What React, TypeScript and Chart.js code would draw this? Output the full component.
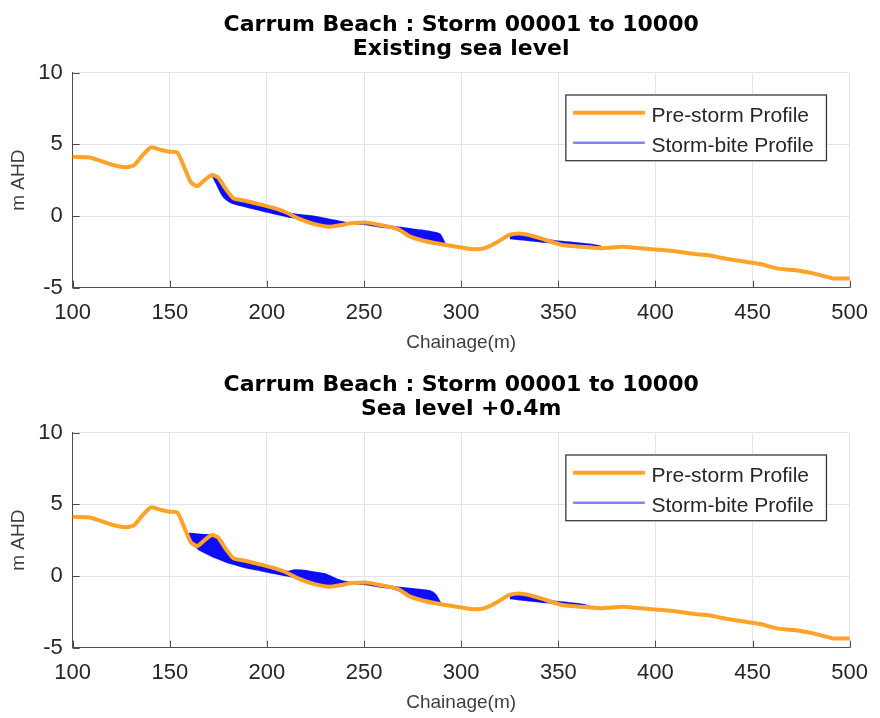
import React, { useEffect, useRef } from "react";
import { Chart, registerables } from "chart.js";

Chart.register(...registerables);

// ---------- data ----------
const xTicks = [100, 150, 200, 250, 300, 350, 400, 450, 500];
const yTicks = [-5, 0, 5, 10];

const chainage = [100, 108.8, 115.6, 120.7, 127.5, 131.8, 136, 140.3, 144.5, 149.6, 153.9, 157.3, 160.7, 164.1, 168.4, 171.7, 174.8, 178.6, 182.8, 188.8, 195.6, 202.4, 209.2, 216, 224.5, 232.1, 238, 243.2, 251.7, 258.5, 267, 273.8, 280.6, 289.1, 297.6, 306.1, 312, 318, 324.8, 329.9, 335, 343.5, 352, 362.2, 372.4, 382.7, 392.9, 403.1, 408.2, 420.1, 426.9, 433.7, 443.9, 454.1, 462.6, 471.1, 481.3, 491.5, 500];
const preStorm = [4.13, 4.09, 3.79, 3.56, 3.4, 3.56, 4.25, 4.79, 4.65, 4.49, 4.42, 3.44, 2.39, 2.09, 2.56, 2.86, 2.7, 1.93, 1.23, 1.07, 0.84, 0.6, 0.3, -0.16, -0.56, -0.74, -0.63, -0.51, -0.46, -0.63, -0.88, -1.44, -1.72, -1.95, -2.14, -2.32, -2.25, -1.86, -1.32, -1.21, -1.32, -1.67, -2.02, -2.14, -2.25, -2.14, -2.25, -2.37, -2.42, -2.65, -2.72, -2.91, -3.14, -3.35, -3.65, -3.77, -4.0, -4.35, -4.35];

// Existing sea level: storm-bite envelope (lowest / highest of all storm profiles)
const existBiteAX = [171.7, 174, 176.8, 179, 182, 186, 190.5, 195, 199, 205, 211, 214, 218, 224.5, 230, 236, 242, 250, 258, 264, 270, 277, 284, 289, 291.6];
const existBiteALow = [2.86, 2.25, 1.5, 1.15, 0.9, 0.75, 0.6, 0.45, 0.32, 0.13, -0.06, -0.12, -0.28, -0.58, -0.72, -0.72, -0.58, -0.58, -0.75, -0.83, -1.14, -1.6, -1.82, -1.97, -2.0];
const existBiteAHigh = [2.86, 2.78, 2.45, 1.9, 1.35, 1.15, 1.02, 0.86, 0.72, 0.5, 0.22, 0.14, 0.07, -0.03, -0.17, -0.33, -0.47, -0.45, -0.57, -0.72, -0.82, -0.95, -1.08, -1.26, -1.9];
const existBiteBX = [325, 330, 336, 342, 348, 355, 362, 368, 372];
const existBiteBLow = [-1.57, -1.64, -1.72, -1.81, -1.9, -2.07, -2.15, -2.21, -2.26];
const existBiteBHigh = [-1.31, -1.21, -1.36, -1.58, -1.72, -1.82, -1.91, -2.0, -2.12];

// Sea level +0.4m
const riseBiteAX = [159.8, 162, 164.9, 168.4, 171.7, 174, 176.8, 179, 182, 186, 190.5, 195, 199, 205, 211, 214, 218, 224.5, 230, 236, 242, 250, 258, 265, 270, 277, 284, 287, 289.5];
const riseBiteALow = [2.75, 2.3, 1.85, 1.6, 1.38, 1.25, 1.1, 0.97, 0.86, 0.7, 0.55, 0.43, 0.31, 0.15, 0.0, -0.08, -0.28, -0.58, -0.72, -0.72, -0.58, -0.58, -0.75, -0.88, -1.14, -1.6, -1.86, -1.92, -1.98];
const riseBiteAHigh = [2.97, 2.95, 2.92, 2.88, 2.86, 2.78, 2.45, 1.9, 1.35, 1.15, 1.02, 0.86, 0.72, 0.5, 0.32, 0.42, 0.4, 0.27, 0.14, -0.22, -0.43, -0.45, -0.57, -0.75, -0.82, -0.92, -1.04, -1.32, -1.92];
const riseBiteBX = [325, 330, 336, 342, 348, 355, 362, 366];
const riseBiteBLow = [-1.57, -1.65, -1.74, -1.83, -1.92, -2.07, -2.15, -2.19];
const riseBiteBHigh = [-1.31, -1.21, -1.36, -1.58, -1.75, -1.86, -1.97, -2.1];

const titleLine1 = "Carrum Beach : Storm 00001 to 10000";
const titleExisting = "Existing sea level";
const titleRise = "Sea level +0.4m";
const legendLabels = ["Pre-storm Profile", "Storm-bite Profile"];

// ---------- styles ----------
const ORANGE = "rgb(255,163,40)";
const BLUE_LINE = "rgba(0,0,255,0.85)";
const BLUE_FILL = "rgba(0,0,245,0.95)";
const BLUE_LEGEND = "rgb(130,130,255)";
const AXIS = "#4d4d4d";
const GRID = "#e3e3e3";
const TEXT = "#262626";
const SANS = "'Liberation Sans', Arial, sans-serif";

const toXY = (xs: number[], ys: number[]) => xs.map((x, i) => ({ x, y: ys[i] }));

type Props = {
  subtitle: string;
  aX: number[]; aLow: number[]; aHigh: number[];
  bX: number[]; bLow: number[]; bHigh: number[];
};

function ProfileChart(p: Props) {
  const ref = useRef<HTMLCanvasElement>(null);
  useEffect(() => {
    const titlePlugin = {
      id: "twoLineTitle",
      afterDraw(chart: any) {
        const { ctx, chartArea: a } = chart;
        const cx = (a.left + a.right) / 2;
        ctx.save();
        ctx.fillStyle = "#000";
        ctx.font = "bold 22px 'DejaVu Sans', sans-serif";
        ctx.textAlign = "center";
        ctx.textBaseline = "alphabetic";
        ctx.fillText(titleLine1, cx, a.top - 42);
        ctx.fillText(p.subtitle, cx, a.top - 17.7);
        ctx.restore();
      },
    };
    const innerTicks = {
      id: "innerTicks",
      afterDraw(chart: any) {
        const { ctx, chartArea: a, scales } = chart;
        ctx.save();
        ctx.strokeStyle = AXIS;
        ctx.lineWidth = 1;
        ctx.beginPath();
        xTicks.forEach((v) => {
          const px = Math.round(scales.x.getPixelForValue(v)) + 0.5;
          ctx.moveTo(px, a.bottom);
          ctx.lineTo(px, a.bottom - 7);
        });
        yTicks.forEach((v) => {
          const py = Math.round(scales.y.getPixelForValue(v)) + 0.5;
          ctx.moveTo(a.left, py);
          ctx.lineTo(a.left + 7, py);
        });
        ctx.stroke();
        ctx.restore();
      },
    };
    const legendPlugin = {
      id: "boxLegend",
      afterDraw(chart: any) {
        const { ctx, chartArea: a } = chart;
        const w = 260.6, h = 65.7;
        const bx = a.right - 23.2 - w;
        const by = a.top + 22.3;
        ctx.save();
        ctx.fillStyle = "#fff";
        ctx.fillRect(bx, by, w, h);
        ctx.strokeStyle = "#3a3a3a";
        ctx.lineWidth = 1.3;
        ctx.strokeRect(bx, by, w, h);
        ctx.lineCap = "butt";
        ctx.strokeStyle = ORANGE;
        ctx.lineWidth = 4;
        ctx.beginPath();
        ctx.moveTo(bx + 7.3, by + 17.7);
        ctx.lineTo(bx + 79, by + 17.7);
        ctx.stroke();
        ctx.strokeStyle = BLUE_LEGEND;
        ctx.lineWidth = 2.5;
        ctx.beginPath();
        ctx.moveTo(bx + 7.3, by + 47.7);
        ctx.lineTo(bx + 79, by + 47.7);
        ctx.stroke();
        ctx.fillStyle = TEXT;
        ctx.font = `21px ${SANS}`;
        ctx.textAlign = "left";
        ctx.textBaseline = "alphabetic";
        ctx.fillText(legendLabels[0], bx + 85.6, by + 26.5);
        ctx.fillText(legendLabels[1], bx + 85.6, by + 56.5);
        ctx.restore();
      },
    };

    const lineBase = { pointRadius: 0, pointHoverRadius: 0, tension: 0.2 };
    const chart = new Chart(ref.current as HTMLCanvasElement, {
      type: "line",
      data: {
        datasets: [
          { ...lineBase, label: legendLabels[0], data: toXY(chainage, preStorm), borderColor: ORANGE, borderWidth: 4, fill: false, order: 0, borderJoinStyle: "round", borderCapStyle: "round" },
          { ...lineBase, label: legendLabels[1], data: toXY(p.aX, p.aLow), borderColor: BLUE_LINE, borderWidth: 1.5, fill: false, order: 1 },
          { ...lineBase, label: legendLabels[1], data: toXY(p.aX, p.aHigh), borderColor: BLUE_LINE, borderWidth: 1.5, fill: "-1", backgroundColor: BLUE_FILL, order: 1 },
          { ...lineBase, label: legendLabels[1], data: toXY(p.bX, p.bLow), borderColor: BLUE_LINE, borderWidth: 1.5, fill: false, order: 1 },
          { ...lineBase, label: legendLabels[1], data: toXY(p.bX, p.bHigh), borderColor: BLUE_LINE, borderWidth: 1.5, fill: "-1", backgroundColor: BLUE_FILL, order: 1 },
        ] as any,
      },
      options: {
        responsive: false,
        animation: false,
        devicePixelRatio: 1,
        layout: { padding: { top: 72.7, right: 23.5, bottom: 0, left: 0 } },
        plugins: { legend: { display: false }, title: { display: false }, tooltip: { enabled: false } },
        scales: {
          x: {
            type: "linear",
            min: 100,
            max: 500,
            afterBuildTicks: (s: any) => { s.ticks = xTicks.map((v) => ({ value: v })); },
            afterFit: (s: any) => { s.height = 72.3; },
            ticks: { font: { family: SANS, size: 22 }, color: TEXT, padding: 12, maxRotation: 0, autoSkip: false },
            grid: { color: GRID, drawTicks: false, lineWidth: 1 },
            border: { display: true, color: AXIS, width: 1 },
            title: { display: true, text: "Chainage(m)", font: { family: SANS, size: 19 }, color: "#404040", padding: { top: 0, bottom: 6 } },
          },
          y: {
            type: "linear",
            min: -5,
            max: 10,
            afterBuildTicks: (s: any) => { s.ticks = yTicks.map((v) => ({ value: v })); },
            afterFit: (s: any) => { s.width = 72.7; },
            ticks: { font: { family: SANS, size: 22 }, color: TEXT, padding: 10 },
            grid: { color: GRID, drawTicks: false, lineWidth: 1 },
            border: { display: true, color: AXIS, width: 1 },
            title: { display: true, text: "m AHD", font: { family: SANS, size: 19 }, color: "#404040", padding: { top: 7, bottom: 0 } },
          },
        },
      } as any,
      plugins: [titlePlugin, innerTicks, legendPlugin],
    });
    return () => chart.destroy();
  }, []);
  return <canvas ref={ref} width={880} height={360} style={{ display: "block", width: 880, height: 360 }} />;
}

export default function App() {
  return (
    <div style={{ position: "absolute", left: 0, top: 0, width: 880, height: 718, overflow: "hidden", background: "#fff" }}>
      <ProfileChart subtitle={titleExisting} aX={existBiteAX} aLow={existBiteALow} aHigh={existBiteAHigh} bX={existBiteBX} bLow={existBiteBLow} bHigh={existBiteBHigh} />
      <ProfileChart subtitle={titleRise} aX={riseBiteAX} aLow={riseBiteALow} aHigh={riseBiteAHigh} bX={riseBiteBX} bLow={riseBiteBLow} bHigh={riseBiteBHigh} />
    </div>
  );
}
